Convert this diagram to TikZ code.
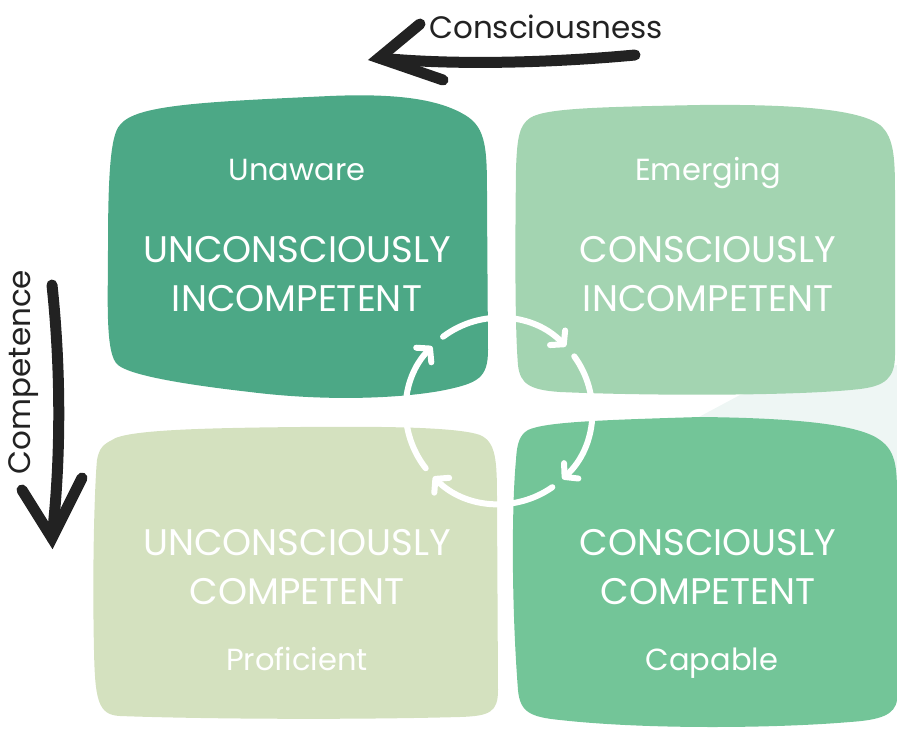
\documentclass[tikz,border=0pt]{standalone}
\usepackage{fontspec}
\setmainfont{Poppins}
\usetikzlibrary{arrows.meta}
\definecolor{cTL}{HTML}{4CA886}
\definecolor{cTR}{HTML}{A3D4B1}
\definecolor{cBL}{HTML}{D4E1BF}
\definecolor{cBR}{HTML}{73C598}
\definecolor{cBG}{HTML}{EEF6F4}
\definecolor{ink}{HTML}{222222}
\tikzset{
  big/.style={text=white, font=\fontsize{37}{49}\selectfont, align=center, inner sep=0pt},
  small/.style={text=white, font=\fontsize{30.5}{34}\selectfont, inner sep=0pt, anchor=base},
  axislabel/.style={text=ink, font=\fontsize{31}{34}\selectfont, inner sep=0pt},
  ring/.style={white, line width=6pt, line cap=round, -{Straight Barb[length=9pt,width=21pt,round]}},
  brush/.style={ink, line width=11pt, line cap=round},
}
\begin{document}
\begin{tikzpicture}[x=1pt,y=-1pt]
\useasboundingbox (0,0) rectangle (897,733);
% pale background
\fill[cBG] (697,418) -- (740,395) -- (897,365) -- (897,690) -- (697,690) -- cycle;
% top-left box
\fill[cTL] (120,125) .. controls (135,105) and (200,102) .. (330,96)
  .. controls (400,93) and (440,100) .. (465,115)
  .. controls (487,128) and (487,150) .. (487,200) -- (488,350)
  .. controls (488,378) and (478,383) .. (445,390)
  .. controls (405,398) and (330,402) .. (250,392)
  .. controls (180,384) and (130,375) .. (118,365)
  .. controls (105,355) and (108,300) .. (108,250)
  .. controls (108,180) and (110,135) .. (120,125) -- cycle;
% top-right box
\fill[cTR] (530,118) .. controls (545,108) and (600,107) .. (700,105)
  .. controls (800,104) and (860,110) .. (880,125)
  .. controls (895,138) and (895,160) .. (895,200) -- (895,355)
  .. controls (895,378) and (885,386) .. (860,389)
  .. controls (800,396) and (650,396) .. (560,392)
  .. controls (530,390) and (520,384) .. (518,365)
  .. controls (515,330) and (515,250) .. (516,170)
  .. controls (517,135) and (520,125) .. (530,118) -- cycle;
% bottom-left box
\fill[cBL] (112,440) .. controls (125,430) and (200,428) .. (300,427)
  .. controls (400,426) and (460,428) .. (480,435)
  .. controls (496,442) and (497,460) .. (497,500) -- (498,690)
  .. controls (498,712) and (490,716) .. (460,717)
  .. controls (350,720) and (200,719) .. (120,716)
  .. controls (98,715) and (95,700) .. (94,650)
  .. controls (92,560) and (95,480) .. (97,460)
  .. controls (99,448) and (104,444) .. (112,440) -- cycle;
% bottom-right box
\fill[cBR] (528,430) .. controls (545,422) and (600,420) .. (700,417)
  .. controls (800,418) and (860,425) .. (880,440)
  .. controls (897,452) and (897,470) .. (897,500) -- (897,700)
  .. controls (895,715) and (880,720) .. (850,722)
  .. controls (780,728) and (650,730) .. (560,720)
  .. controls (530,717) and (520,712) .. (518,690)
  .. controls (511,600) and (512,500) .. (516,460)
  .. controls (517,442) and (520,435) .. (528,430) -- cycle;
% texts
\node[small] (tl0) at (297,180) {Unaware};
\node[big] (tl1) at (297,274) {UNCONSCIOUSLY\\INCOMPETENT};
\node[small] (tr0) at (708,180) {Emerging};
\node[big] (tr1) at (708,274) {CONSCIOUSLY\\INCOMPETENT};
\node[big] (bl1) at (297,567) {UNCONSCIOUSLY\\COMPETENT};
\node[small] (bl0) at (297,670) {Proficient};
\node[big] (br1) at (708,567) {CONSCIOUSLY\\COMPETENT};
\node[small] (br0) at (712,670) {Capable};
% cycle ring
\coordinate (c) at (499,411);
\draw[ring] ([shift={(-218:93)}]c) arc[start angle=-218, end angle=-136, radius=93];
\draw[ring] ([shift={(-127:93)}]c) arc[start angle=-127, end angle=-44, radius=93];
\draw[ring] ([shift={(-36:93)}]c) arc[start angle=-36, end angle=47, radius=93];
\draw[ring] ([shift={(55:93)}]c) arc[start angle=55, end angle=135, radius=93];
% consciousness arrow
\node[axislabel] (cons) at (546,27) {Consciousness};
\coordinate (ctail) at (635,55);
\coordinate (ctip) at (379,58);
\coordinate (cb1) at (420,24);
\coordinate (cb2) at (443,80);
\draw[brush] (ctail) .. controls (560,62) and (460,66) .. (ctip);
\draw[brush] (cb1) -- (ctip) -- (cb2);
% competence arrow
\node[axislabel, rotate=90] (comp) at (24,372) {Competence};
\coordinate (ptail) at (52,285);
\coordinate (ptip) at (52,538);
\coordinate (pb1) at (22,490);
\coordinate (pb2) at (82,478);
\draw[brush] (ptail) .. controls (60,360) and (62,450) .. (ptip);
\draw[brush] (pb1) -- (ptip) -- (pb2);
\end{tikzpicture}
\end{document}
